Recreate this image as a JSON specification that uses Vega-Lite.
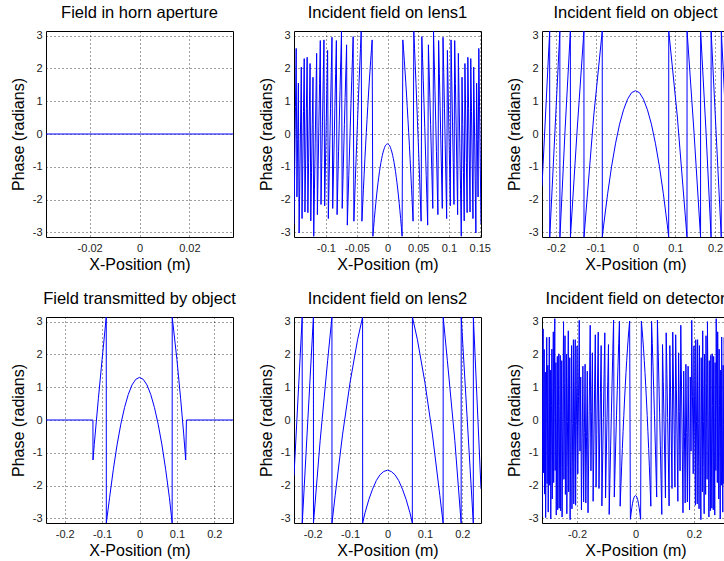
{
"$schema":"https://vega.github.io/schema/vega-lite/v6.json",
"padding":{"left":9,"top":4,"right":0,"bottom":0},
"background":"white",
"datasets":{
"p1":[{"x":-0.0375,"y":0},{"x":0.0375,"y":0}],
"p2":[
{"x":-0.152,"y":-2.74},{"x":-0.15081,"y":-0.94},{"x":-0.14963,"y":0.84},{"x":-0.14844,"y":2.61},{"x":-0.14725,"y":-1.92},{"x":-0.14606,"y":-0.17},{"x":-0.14488,"y":1.55},{"x":-0.14369,"y":-3.02},{"x":-0.1425,"y":-1.32},{"x":-0.14131,"y":0.37},{"x":-0.14013,"y":2.04},{"x":-0.13894,"y":-2.58},{"x":-0.13775,"y":-0.94},{"x":-0.13656,"y":0.69},{"x":-0.13538,"y":2.30},{"x":-0.13419,"y":-2.38},{"x":-0.133,"y":-0.79},{"x":-0.13181,"y":0.78},{"x":-0.13063,"y":2.34},{"x":-0.12944,"y":-2.40},{"x":-0.12825,"y":-0.87},{"x":-0.12706,"y":0.64},{"x":-0.12588,"y":2.15},{"x":-0.12469,"y":-2.65},{"x":-0.1235,"y":-1.17},{"x":-0.12231,"y":0.29},{"x":-0.12113,"y":1.73},{"x":-0.11994,"y":-3.12},{"x":-0.11875,"y":-1.70},{"x":-0.11756,"y":-0.30},{"x":-0.11638,"y":1.09},{"x":-0.11519,"y":2.46},{"x":-0.114,"y":-2.46},{"x":-0.11281,"y":-1.11},{"x":-0.11163,"y":0.22},{"x":-0.11044,"y":1.54},{"x":-0.10925,"y":2.85},{"x":-0.10806,"y":-2.15},{"x":-0.10688,"y":-0.87},{"x":-0.10569,"y":0.39},{"x":-0.1045,"y":1.64},{"x":-0.10331,"y":2.87},{"x":-0.10213,"y":-2.19},{"x":-0.10094,"y":-0.98},{"x":-0.09975,"y":0.21},{"x":-0.09856,"y":1.39},{"x":-0.09738,"y":2.55},{"x":-0.09619,"y":-2.58},{"x":-0.095,"y":-1.45},{"x":-0.09381,"y":-0.33},{"x":-0.09263,"y":0.78},{"x":-0.09144,"y":1.87},{"x":-0.09025,"y":2.95},{"x":-0.08906,"y":-2.27},{"x":-0.08788,"y":-1.22},{"x":-0.08669,"y":-0.18},{"x":-0.0855,"y":0.84},{"x":-0.08431,"y":1.85},{"x":-0.08313,"y":2.85},{"x":-0.08194,"y":-2.46},{"x":-0.08075,"y":-1.49},{"x":-0.07956,"y":-0.54},{"x":-0.07838,"y":0.40},{"x":-0.07719,"y":1.32},{"x":-0.076,"y":2.23},{"x":-0.07481,"y":3.13},{"x":-0.07363,"y":-2.27},{"x":-0.07244,"y":-1.41},{"x":-0.07125,"y":-0.55},{"x":-0.07006,"y":0.29},{"x":-0.06888,"y":1.11},{"x":-0.06769,"y":1.92},{"x":-0.0665,"y":2.72},{"x":-0.06531,"y":-2.78},{"x":-0.06413,"y":-2.01},{"x":-0.06294,"y":-1.26},{"x":-0.06175,"y":-0.52},{"x":-0.06056,"y":0.21},{"x":-0.05938,"y":0.92},{"x":-0.05819,"y":1.62},{"x":-0.057,"y":2.30},{"x":-0.05581,"y":2.97},{"x":-0.05463,"y":-2.66},{"x":-0.05344,"y":-2.01},{"x":-0.05225,"y":-1.39},{"x":-0.05106,"y":-0.77},{"x":-0.04988,"y":-0.17},{"x":-0.04869,"y":0.41},{"x":-0.0475,"y":0.98},{"x":-0.04631,"y":1.54},{"x":-0.04513,"y":2.08},{"x":-0.04394,"y":2.61},{"x":-0.04275,"y":3.13},{"x":-0.04156,"y":-2.66},{"x":-0.04038,"y":-2.17},{"x":-0.03919,"y":-1.70},{"x":-0.038,"y":-1.24},{"x":-0.03681,"y":-0.79},{"x":-0.03563,"y":-0.36},{"x":-0.03444,"y":0.05},{"x":-0.03325,"y":0.45},{"x":-0.03206,"y":0.84},{"x":-0.03088,"y":1.22},{"x":-0.02969,"y":1.58},{"x":-0.0285,"y":1.92},{"x":-0.02731,"y":2.25},{"x":-0.02613,"y":2.57},{"x":-0.02494,"y":2.87},{"x":-0.02375,"y":-3.12},{"x":-0.02256,"y":-2.85},{"x":-0.02138,"y":-2.58},{"x":-0.02019,"y":-2.34},{"x":-0.019,"y":-2.11},{"x":-0.01781,"y":-1.89},{"x":-0.01663,"y":-1.68},{"x":-0.01544,"y":-1.49},{"x":-0.01425,"y":-1.32},{"x":-0.01306,"y":-1.15},{"x":-0.01188,"y":-1.01},{"x":-0.01069,"y":-0.87},{"x":-0.0095,"y":-0.75},{"x":-0.00831,"y":-0.65},{"x":-0.00713,"y":-0.55},{"x":-0.00594,"y":-0.48},{"x":-0.00475,"y":-0.41},{"x":-0.00356,"y":-0.36},{"x":-0.00238,"y":-0.33},{"x":-0.00119,"y":-0.31},
{"x":0,"y":-0.30},
{"x":0.00119,"y":-0.31},{"x":0.00238,"y":-0.33},{"x":0.00356,"y":-0.36},{"x":0.00475,"y":-0.41},{"x":0.00594,"y":-0.48},{"x":0.00713,"y":-0.55},{"x":0.00831,"y":-0.65},{"x":0.0095,"y":-0.75},{"x":0.01069,"y":-0.87},{"x":0.01188,"y":-1.01},{"x":0.01306,"y":-1.15},{"x":0.01425,"y":-1.32},{"x":0.01544,"y":-1.49},{"x":0.01663,"y":-1.68},{"x":0.01781,"y":-1.89},{"x":0.019,"y":-2.11},{"x":0.02019,"y":-2.34},{"x":0.02138,"y":-2.58},{"x":0.02256,"y":-2.85},{"x":0.02375,"y":-3.12},{"x":0.02494,"y":2.87},{"x":0.02613,"y":2.57},{"x":0.02731,"y":2.25},{"x":0.0285,"y":1.92},{"x":0.02969,"y":1.58},{"x":0.03088,"y":1.22},{"x":0.03206,"y":0.84},{"x":0.03325,"y":0.45},{"x":0.03444,"y":0.05},{"x":0.03563,"y":-0.36},{"x":0.03681,"y":-0.79},{"x":0.038,"y":-1.24},{"x":0.03919,"y":-1.70},{"x":0.04038,"y":-2.17},{"x":0.04156,"y":-2.66},{"x":0.04275,"y":3.13},{"x":0.04394,"y":2.61},{"x":0.04513,"y":2.08},{"x":0.04631,"y":1.54},{"x":0.0475,"y":0.98},{"x":0.04869,"y":0.41},{"x":0.04988,"y":-0.17},{"x":0.05106,"y":-0.77},{"x":0.05225,"y":-1.39},{"x":0.05344,"y":-2.01},{"x":0.05463,"y":-2.66},{"x":0.05581,"y":2.97},{"x":0.057,"y":2.30},{"x":0.05819,"y":1.62},{"x":0.05938,"y":0.92},{"x":0.06056,"y":0.21},{"x":0.06175,"y":-0.52},{"x":0.06294,"y":-1.26},{"x":0.06413,"y":-2.01},{"x":0.06531,"y":-2.78},{"x":0.0665,"y":2.72},{"x":0.06769,"y":1.92},{"x":0.06888,"y":1.11},{"x":0.07006,"y":0.29},{"x":0.07125,"y":-0.55},{"x":0.07244,"y":-1.41},{"x":0.07363,"y":-2.27},{"x":0.07481,"y":3.13},{"x":0.076,"y":2.23},{"x":0.07719,"y":1.32},{"x":0.07838,"y":0.40},{"x":0.07956,"y":-0.54},{"x":0.08075,"y":-1.49},{"x":0.08194,"y":-2.46},{"x":0.08313,"y":2.85},{"x":0.08431,"y":1.85},{"x":0.0855,"y":0.84},{"x":0.08669,"y":-0.18},{"x":0.08788,"y":-1.22},{"x":0.08906,"y":-2.27},{"x":0.09025,"y":2.95},{"x":0.09144,"y":1.87},{"x":0.09263,"y":0.78},{"x":0.09381,"y":-0.33},{"x":0.095,"y":-1.45},{"x":0.09619,"y":-2.58},{"x":0.09738,"y":2.55},{"x":0.09856,"y":1.39},{"x":0.09975,"y":0.21},{"x":0.10094,"y":-0.98},{"x":0.10213,"y":-2.19},{"x":0.10331,"y":2.87},{"x":0.1045,"y":1.64},{"x":0.10569,"y":0.39},{"x":0.10688,"y":-0.87},{"x":0.10806,"y":-2.15},{"x":0.10925,"y":2.85},{"x":0.11044,"y":1.54},{"x":0.11163,"y":0.22},{"x":0.11281,"y":-1.11},{"x":0.114,"y":-2.46},{"x":0.11519,"y":2.46},{"x":0.11638,"y":1.09},{"x":0.11756,"y":-0.30},{"x":0.11875,"y":-1.70},{"x":0.11994,"y":-3.12},{"x":0.12113,"y":1.73},{"x":0.12231,"y":0.29},{"x":0.1235,"y":-1.17},{"x":0.12469,"y":-2.65},{"x":0.12588,"y":2.15},{"x":0.12706,"y":0.64},{"x":0.12825,"y":-0.87},{"x":0.12944,"y":-2.40},{"x":0.13063,"y":2.34},{"x":0.13181,"y":0.78},{"x":0.133,"y":-0.79},{"x":0.13419,"y":-2.38},{"x":0.13538,"y":2.30},{"x":0.13656,"y":0.69},{"x":0.13775,"y":-0.94},{"x":0.13894,"y":-2.58},{"x":0.14013,"y":2.04},{"x":0.14131,"y":0.37},{"x":0.1425,"y":-1.32},{"x":0.14369,"y":-3.02},{"x":0.14488,"y":1.55},{"x":0.14606,"y":-0.17},{"x":0.14725,"y":-1.92},{"x":0.14844,"y":2.61},{"x":0.14963,"y":0.84},{"x":0.15081,"y":-0.94},{"x":0.152,"y":-2.74}
],
"p3":[
{"x":-0.235,"y":-1.6},{"x":-0.2157,"y":3.14},{"x":-0.2155,"y":-3.14},{"x":-0.1901,"y":3.14},{"x":-0.1899,"y":-3.14},{"x":-0.177,"y":0.12},{"x":-0.1637,"y":3.14},{"x":-0.1635,"y":-3.14},{"x":-0.147,"y":0.06},{"x":-0.1296,"y":3.14},{"x":-0.1294,"y":-3.14},{"x":-0.105,"y":0.55},{"x":-0.0836,"y":3.14},{"x":-0.0834,"y":-3.14},{"x":-0.08,"y":-2.78},{"x":-0.07,"y":-1.82},{"x":-0.06,"y":-0.98},{"x":-0.05,"y":-0.28},{"x":-0.04,"y":0.30},{"x":-0.03,"y":0.74},{"x":-0.02,"y":1.06},{"x":-0.01,"y":1.26},{"x":0,"y":1.32},{"x":0.01,"y":1.26},{"x":0.02,"y":1.06},{"x":0.03,"y":0.74},{"x":0.04,"y":0.30},{"x":0.05,"y":-0.28},{"x":0.06,"y":-0.98},{"x":0.07,"y":-1.82},{"x":0.08,"y":-2.78},{"x":0.0834,"y":-3.14},{"x":0.0836,"y":3.14},{"x":0.105,"y":0.55},{"x":0.1294,"y":-3.14},{"x":0.1296,"y":3.14},{"x":0.147,"y":0.06},{"x":0.1635,"y":-3.14},{"x":0.1637,"y":3.14},{"x":0.177,"y":0.12},{"x":0.1899,"y":-3.14},{"x":0.1901,"y":3.14},{"x":0.2155,"y":-3.14},{"x":0.2157,"y":3.14},{"x":0.235,"y":-1.6}
],
"p4":[
{"x":-0.25,"y":0},{"x":-0.1245,"y":0},{"x":-0.1243,"y":-1.22},{"x":-0.121,"y":-0.75},{"x":-0.11,"y":0.65},{"x":-0.1,"y":1.85},{"x":-0.0889,"y":3.14},{"x":-0.0887,"y":-3.14},{"x":-0.08,"y":-2.37},{"x":-0.07,"y":-1.51},{"x":-0.06,"y":-0.76},{"x":-0.05,"y":-0.13},{"x":-0.04,"y":0.38},{"x":-0.03,"y":0.78},{"x":-0.02,"y":1.07},{"x":-0.01,"y":1.24},{"x":0,"y":1.30},{"x":0.01,"y":1.24},{"x":0.02,"y":1.07},{"x":0.03,"y":0.78},{"x":0.04,"y":0.38},{"x":0.05,"y":-0.13},{"x":0.06,"y":-0.76},{"x":0.07,"y":-1.51},{"x":0.08,"y":-2.37},{"x":0.0873,"y":-3.14},{"x":0.0875,"y":3.14},{"x":0.1,"y":1.85},{"x":0.11,"y":0.65},{"x":0.118,"y":-0.4},{"x":0.1235,"y":-1.22},{"x":0.1255,"y":0},{"x":0.25,"y":0}
],
"p5":[
{"x":-0.25,"y":-1.7},{"x":-0.2281,"y":3.14},{"x":-0.2279,"y":-3.14},{"x":-0.1981,"y":3.14},{"x":-0.1979,"y":-3.14},{"x":-0.18,"y":-0.62},{"x":-0.16,"y":1.82},{"x":-0.1486,"y":3.14},{"x":-0.1484,"y":-3.14},{"x":-0.14,"y":-2.31},{"x":-0.12,"y":-0.43},{"x":-0.1,"y":1.15},{"x":-0.08,"y":2.45},{"x":-0.0666,"y":3.14},{"x":-0.0664,"y":-3.14},{"x":-0.06,"y":-2.83},{"x":-0.05,"y":-2.43},{"x":-0.04,"y":-2.11},{"x":-0.03,"y":-1.85},{"x":-0.02,"y":-1.67},{"x":-0.01,"y":-1.57},{"x":0,"y":-1.53},{"x":0.01,"y":-1.57},{"x":0.02,"y":-1.67},{"x":0.03,"y":-1.85},{"x":0.04,"y":-2.11},{"x":0.05,"y":-2.43},{"x":0.06,"y":-2.83},{"x":0.0664,"y":-3.14},{"x":0.0666,"y":3.14},{"x":0.08,"y":2.45},{"x":0.1,"y":1.15},{"x":0.12,"y":-0.43},{"x":0.14,"y":-2.31},{"x":0.1487,"y":-3.14},{"x":0.1489,"y":3.14},{"x":0.16,"y":1.82},{"x":0.18,"y":-0.62},{"x":0.1969,"y":-3.14},{"x":0.1971,"y":3.14},{"x":0.2294,"y":-3.14},{"x":0.2296,"y":3.14},{"x":0.25,"y":-2.1}
],
"p6":[
{"x":-0.32,"y":-2.95},{"x":-0.31875,"y":-1.03},{"x":-0.3175,"y":0.88},{"x":-0.31625,"y":2.78},{"x":-0.315,"y":-1.61},{"x":-0.31375,"y":0.27},{"x":-0.3125,"y":2.15},{"x":-0.31125,"y":-2.26},{"x":-0.31,"y":-0.40},{"x":-0.30875,"y":1.46},{"x":-0.3075,"y":-2.98},{"x":-0.30625,"y":-1.14},{"x":-0.305,"y":0.70},{"x":-0.30375,"y":2.52},{"x":-0.3025,"y":-1.94},{"x":-0.30125,"y":-0.13},{"x":-0.3,"y":1.67},{"x":-0.29875,"y":-2.81},{"x":-0.2975,"y":-1.03},{"x":-0.29625,"y":0.75},{"x":-0.295,"y":2.53},{"x":-0.29375,"y":-1.99},{"x":-0.2925,"y":-0.23},{"x":-0.29125,"y":1.52},{"x":-0.29,"y":-3.02},{"x":-0.28875,"y":-1.29},{"x":-0.2875,"y":0.44},{"x":-0.28625,"y":2.16},{"x":-0.285,"y":-2.41},{"x":-0.28375,"y":-0.70},{"x":-0.2825,"y":1.00},{"x":-0.28125,"y":2.69},{"x":-0.28,"y":-1.91},{"x":-0.27875,"y":-0.24},{"x":-0.2775,"y":1.43},{"x":-0.27625,"y":3.09},{"x":-0.275,"y":-1.54},{"x":-0.27375,"y":0.11},{"x":-0.2725,"y":1.75},{"x":-0.27125,"y":-2.90},{"x":-0.27,"y":-1.28},{"x":-0.26875,"y":0.33},{"x":-0.2675,"y":1.94},{"x":-0.26625,"y":-2.74},{"x":-0.265,"y":-1.15},{"x":-0.26375,"y":0.44},{"x":-0.2625,"y":2.02},{"x":-0.26125,"y":-2.69},{"x":-0.26,"y":-1.13},{"x":-0.25875,"y":0.42},{"x":-0.2575,"y":1.97},{"x":-0.25625,"y":-2.77},{"x":-0.255,"y":-1.24},{"x":-0.25375,"y":0.29},{"x":-0.2525,"y":1.81},{"x":-0.25125,"y":-2.96},{"x":-0.25,"y":-1.46},{"x":-0.24875,"y":0.03},{"x":-0.2475,"y":1.52},{"x":-0.24625,"y":3.00},{"x":-0.245,"y":-1.81},{"x":-0.24375,"y":-0.34},{"x":-0.2425,"y":1.12},{"x":-0.24125,"y":2.57},{"x":-0.24,"y":-2.27},{"x":-0.23875,"y":-0.84},{"x":-0.2375,"y":0.59},{"x":-0.23625,"y":2.01},{"x":-0.235,"y":-2.86},{"x":-0.23375,"y":-1.45},{"x":-0.2325,"y":-0.05},{"x":-0.23125,"y":1.34},{"x":-0.23,"y":2.72},{"x":-0.22875,"y":-2.19},{"x":-0.2275,"y":-0.82},{"x":-0.22625,"y":0.54},{"x":-0.225,"y":1.90},{"x":-0.22375,"y":-3.04},{"x":-0.2225,"y":-1.70},{"x":-0.22125,"y":-0.37},{"x":-0.22,"y":0.95},{"x":-0.21875,"y":2.27},{"x":-0.2175,"y":-2.71},{"x":-0.21625,"y":-1.41},{"x":-0.215,"y":-0.11},{"x":-0.21375,"y":1.17},{"x":-0.2125,"y":2.45},{"x":-0.21125,"y":-2.56},{"x":-0.21,"y":-1.30},{"x":-0.20875,"y":-0.04},{"x":-0.2075,"y":1.21},{"x":-0.20625,"y":2.45},{"x":-0.205,"y":-2.60},{"x":-0.20375,"y":-1.38},{"x":-0.2025,"y":-0.16},{"x":-0.20125,"y":1.05},{"x":-0.2,"y":2.26},{"x":-0.1975,"y":-1.64},{"x":-0.195,"y":0.71},{"x":-0.1925,"y":3.04},{"x":-0.19,"y":-0.95},{"x":-0.1875,"y":1.31},{"x":-0.185,"y":-2.74},{"x":-0.1825,"y":-0.53},{"x":-0.18,"y":1.64},{"x":-0.1775,"y":-2.50},{"x":-0.175,"y":-0.38},{"x":-0.1725,"y":1.70},{"x":-0.17,"y":-2.53},{"x":-0.1675,"y":-0.50},{"x":-0.165,"y":1.49},{"x":-0.1625,"y":-2.83},{"x":-0.16,"y":-0.89},{"x":-0.1575,"y":1.01},{"x":-0.155,"y":2.89},{"x":-0.1525,"y":-1.55},{"x":-0.15,"y":0.26},{"x":-0.1475,"y":2.05},{"x":-0.145,"y":-2.48},{"x":-0.1425,"y":-0.76},{"x":-0.14,"y":0.94},{"x":-0.1375,"y":2.60},{"x":-0.135,"y":-2.05},{"x":-0.1325,"y":-0.44},{"x":-0.13,"y":1.13},{"x":-0.1275,"y":2.68},{"x":-0.125,"y":-2.09},{"x":-0.1225,"y":-0.61},{"x":-0.12,"y":0.85},{"x":-0.1175,"y":2.27},{"x":-0.115,"y":-2.62},{"x":-0.1125,"y":-1.25},{"x":-0.11,"y":0.08},{"x":-0.1075,"y":1.39},{"x":-0.105,"y":2.66},{"x":-0.1025,"y":-2.38},{"x":-0.1,"y":-1.16},{"x":-0.0975,"y":0.02},{"x":-0.095,"y":1.18},{"x":-0.0925,"y":2.30},{"x":-0.09,"y":-2.88},{"x":-0.0875,"y":-1.82},{"x":-0.085,"y":-0.79},{"x":-0.0825,"y":0.22},{"x":-0.08,"y":1.19},{"x":-0.0775,"y":2.14},{"x":-0.075,"y":3.05},{"x":-0.0725,"y":-2.35},{"x":-0.07,"y":-1.49},{"x":-0.0675,"y":-0.67},{"x":-0.065,"y":0.13},{"x":-0.0625,"y":0.89},{"x":-0.06,"y":1.63},{"x":-0.0575,"y":2.33},{"x":-0.055,"y":3.01},{"x":-0.0525,"y":-2.63},{"x":-0.05,"y":-2.01},{"x":-0.0475,"y":-1.43},{"x":-0.045,"y":-0.87},{"x":-0.0425,"y":-0.35},{"x":-0.04,"y":0.14},{"x":-0.0375,"y":0.61},{"x":-0.035,"y":1.04},{"x":-0.0325,"y":1.45},{"x":-0.03,"y":1.82},{"x":-0.0275,"y":2.17},{"x":-0.025,"y":2.48},{"x":-0.0225,"y":2.77},{"x":-0.02,"y":3.02},{"x":-0.0175,"y":-3.03},{"x":-0.015,"y":-2.84},{"x":-0.0125,"y":-2.67},{"x":-0.01,"y":-2.54},{"x":-0.0075,"y":-2.43},{"x":-0.005,"y":-2.36},{"x":-0.0025,"y":-2.32},
{"x":0,"y":-2.30},
{"x":0.0025,"y":-2.32},{"x":0.005,"y":-2.36},{"x":0.0075,"y":-2.43},{"x":0.01,"y":-2.54},{"x":0.0125,"y":-2.67},{"x":0.015,"y":-2.84},{"x":0.0175,"y":-3.03},{"x":0.02,"y":3.02},{"x":0.0225,"y":2.77},{"x":0.025,"y":2.48},{"x":0.0275,"y":2.17},{"x":0.03,"y":1.82},{"x":0.0325,"y":1.45},{"x":0.035,"y":1.04},{"x":0.0375,"y":0.61},{"x":0.04,"y":0.14},{"x":0.0425,"y":-0.35},{"x":0.045,"y":-0.87},{"x":0.0475,"y":-1.43},{"x":0.05,"y":-2.01},{"x":0.0525,"y":-2.63},{"x":0.055,"y":3.01},{"x":0.0575,"y":2.33},{"x":0.06,"y":1.63},{"x":0.0625,"y":0.89},{"x":0.065,"y":0.13},{"x":0.0675,"y":-0.67},{"x":0.07,"y":-1.49},{"x":0.0725,"y":-2.35},{"x":0.075,"y":3.05},{"x":0.0775,"y":2.14},{"x":0.08,"y":1.19},{"x":0.0825,"y":0.22},{"x":0.085,"y":-0.79},{"x":0.0875,"y":-1.82},{"x":0.09,"y":-2.88},{"x":0.0925,"y":2.30},{"x":0.095,"y":1.18},{"x":0.0975,"y":0.02},{"x":0.1,"y":-1.16},{"x":0.1025,"y":-2.38},{"x":0.105,"y":2.66},{"x":0.1075,"y":1.39},{"x":0.11,"y":0.08},{"x":0.1125,"y":-1.25},{"x":0.115,"y":-2.62},{"x":0.1175,"y":2.27},{"x":0.12,"y":0.85},{"x":0.1225,"y":-0.61},{"x":0.125,"y":-2.09},{"x":0.1275,"y":2.68},{"x":0.13,"y":1.13},{"x":0.1325,"y":-0.44},{"x":0.135,"y":-2.05},{"x":0.1375,"y":2.60},{"x":0.14,"y":0.94},{"x":0.1425,"y":-0.76},{"x":0.145,"y":-2.48},{"x":0.1475,"y":2.05},{"x":0.15,"y":0.26},{"x":0.1525,"y":-1.55},{"x":0.155,"y":2.89},{"x":0.1575,"y":1.01},{"x":0.16,"y":-0.89},{"x":0.1625,"y":-2.83},{"x":0.165,"y":1.49},{"x":0.1675,"y":-0.50},{"x":0.17,"y":-2.53},{"x":0.1725,"y":1.70},{"x":0.175,"y":-0.38},{"x":0.1775,"y":-2.50},{"x":0.18,"y":1.64},{"x":0.1825,"y":-0.53},{"x":0.185,"y":-2.74},{"x":0.1875,"y":1.31},{"x":0.19,"y":-0.95},{"x":0.1925,"y":3.04},{"x":0.195,"y":0.71},{"x":0.1975,"y":-1.64},{"x":0.2,"y":2.26},{"x":0.20125,"y":1.05},{"x":0.2025,"y":-0.16},{"x":0.20375,"y":-1.38},{"x":0.205,"y":-2.60},{"x":0.20625,"y":2.45},{"x":0.2075,"y":1.21},{"x":0.20875,"y":-0.04},{"x":0.21,"y":-1.30},{"x":0.21125,"y":-2.56},{"x":0.2125,"y":2.45},{"x":0.21375,"y":1.17},{"x":0.215,"y":-0.11},{"x":0.21625,"y":-1.41},{"x":0.2175,"y":-2.71},{"x":0.21875,"y":2.27},{"x":0.22,"y":0.95},{"x":0.22125,"y":-0.37},{"x":0.2225,"y":-1.70},{"x":0.22375,"y":-3.04},{"x":0.225,"y":1.90},{"x":0.22625,"y":0.54},{"x":0.2275,"y":-0.82},{"x":0.22875,"y":-2.19},{"x":0.23,"y":2.72},{"x":0.23125,"y":1.34},{"x":0.2325,"y":-0.05},{"x":0.23375,"y":-1.45},{"x":0.235,"y":-2.86},{"x":0.23625,"y":2.01},{"x":0.2375,"y":0.59},{"x":0.23875,"y":-0.84},{"x":0.24,"y":-2.27},{"x":0.24125,"y":2.57},{"x":0.2425,"y":1.12},{"x":0.24375,"y":-0.34},{"x":0.245,"y":-1.81},{"x":0.24625,"y":3.00},{"x":0.2475,"y":1.52},{"x":0.24875,"y":0.03},{"x":0.25,"y":-1.46},{"x":0.25125,"y":-2.96},{"x":0.2525,"y":1.81},{"x":0.25375,"y":0.29},{"x":0.255,"y":-1.24},{"x":0.25625,"y":-2.77},{"x":0.2575,"y":1.97},{"x":0.25875,"y":0.42},{"x":0.26,"y":-1.13},{"x":0.26125,"y":-2.69},{"x":0.2625,"y":2.02},{"x":0.26375,"y":0.44},{"x":0.265,"y":-1.15},{"x":0.26625,"y":-2.74},{"x":0.2675,"y":1.94},{"x":0.26875,"y":0.33},{"x":0.27,"y":-1.28},{"x":0.27125,"y":-2.90},{"x":0.2725,"y":1.75},{"x":0.27375,"y":0.11},{"x":0.275,"y":-1.54},{"x":0.27625,"y":3.09},{"x":0.2775,"y":1.43},{"x":0.27875,"y":-0.24},{"x":0.28,"y":-1.91},{"x":0.28125,"y":2.69},{"x":0.2825,"y":1.00},{"x":0.28375,"y":-0.70},{"x":0.285,"y":-2.41},{"x":0.28625,"y":2.16},{"x":0.2875,"y":0.44},{"x":0.28875,"y":-1.29},{"x":0.29,"y":-3.02},{"x":0.29125,"y":1.52},{"x":0.2925,"y":-0.23},{"x":0.29375,"y":-1.99},{"x":0.295,"y":2.53},{"x":0.29625,"y":0.75},{"x":0.2975,"y":-1.03},{"x":0.29875,"y":-2.81},{"x":0.3,"y":1.67},{"x":0.30125,"y":-0.13},{"x":0.3025,"y":-1.94},{"x":0.30375,"y":2.52},{"x":0.305,"y":0.70},{"x":0.30625,"y":-1.14},{"x":0.3075,"y":-2.98},{"x":0.30875,"y":1.46},{"x":0.31,"y":-0.40},{"x":0.31125,"y":-2.26},{"x":0.3125,"y":2.15},{"x":0.31375,"y":0.27},{"x":0.315,"y":-1.61},{"x":0.31625,"y":2.78},{"x":0.3175,"y":0.88},{"x":0.31875,"y":-1.03},{"x":0.32,"y":-2.95}
]
},
"columns":3,
"spacing":{"row":80,"column":61},
"bounds":"flush",
"concat":[
{"title":"Field in horn aperture","width":187,"height":206,"data":{"name":"p1"},"mark":{"type":"line","clip":true},
"encoding":{"x":{"field":"x","type":"quantitative","scale":{"domain":[-0.0375,0.0375],"nice":false,"zero":false},"axis":{"values":[-0.02,0,0.02],"title":"X-Position (m)","labelExpr":"''+datum.value"}},
"y":{"field":"y","type":"quantitative","scale":{"domain":[-3.1416,3.1416],"nice":false,"zero":false},"axis":{"values":[-3,-2,-1,0,1,2,3],"title":"Phase (radians)","labelExpr":"''+datum.value"}}}},
{"title":"Incident field on lens1","width":187,"height":206,"data":{"name":"p2"},"mark":{"type":"line","clip":true},
"encoding":{"x":{"field":"x","type":"quantitative","scale":{"domain":[-0.152,0.152],"nice":false,"zero":false},"axis":{"values":[-0.1,-0.05,0,0.05,0.1,0.15],"title":"X-Position (m)","labelExpr":"''+datum.value"}},
"y":{"field":"y","type":"quantitative","scale":{"domain":[-3.1416,3.1416],"nice":false,"zero":false},"axis":{"values":[-3,-2,-1,0,1,2,3],"title":"Phase (radians)","labelExpr":"''+datum.value"}}}},
{"title":"Incident field on object","width":187,"height":206,"data":{"name":"p3"},"mark":{"type":"line","clip":true},
"encoding":{"x":{"field":"x","type":"quantitative","scale":{"domain":[-0.235,0.235],"nice":false,"zero":false},"axis":{"values":[-0.2,-0.1,0,0.1,0.2],"title":"X-Position (m)","labelExpr":"''+datum.value"}},
"y":{"field":"y","type":"quantitative","scale":{"domain":[-3.1416,3.1416],"nice":false,"zero":false},"axis":{"values":[-3,-2,-1,0,1,2,3],"title":"Phase (radians)","labelExpr":"''+datum.value"}}}},
{"title":"Field transmitted by object","width":187,"height":206,"data":{"name":"p4"},"mark":{"type":"line","clip":true},
"encoding":{"x":{"field":"x","type":"quantitative","scale":{"domain":[-0.25,0.25],"nice":false,"zero":false},"axis":{"values":[-0.2,-0.1,0,0.1,0.2],"title":"X-Position (m)","labelExpr":"''+datum.value"}},
"y":{"field":"y","type":"quantitative","scale":{"domain":[-3.1416,3.1416],"nice":false,"zero":false},"axis":{"values":[-3,-2,-1,0,1,2,3],"title":"Phase (radians)","labelExpr":"''+datum.value"}}}},
{"title":"Incident field on lens2","width":187,"height":206,"data":{"name":"p5"},"mark":{"type":"line","clip":true},
"encoding":{"x":{"field":"x","type":"quantitative","scale":{"domain":[-0.25,0.25],"nice":false,"zero":false},"axis":{"values":[-0.2,-0.1,0,0.1,0.2],"title":"X-Position (m)","labelExpr":"''+datum.value"}},
"y":{"field":"y","type":"quantitative","scale":{"domain":[-3.1416,3.1416],"nice":false,"zero":false},"axis":{"values":[-3,-2,-1,0,1,2,3],"title":"Phase (radians)","labelExpr":"''+datum.value"}}}},
{"title":"Incident field on detector","width":187,"height":206,"data":{"name":"p6"},"mark":{"type":"line","clip":true},
"encoding":{"x":{"field":"x","type":"quantitative","scale":{"domain":[-0.32,0.32],"nice":false,"zero":false},"axis":{"values":[-0.2,0,0.2],"title":"X-Position (m)","labelExpr":"''+datum.value"}},
"y":{"field":"y","type":"quantitative","scale":{"domain":[-3.1416,3.1416],"nice":false,"zero":false},"axis":{"values":[-3,-2,-1,0,1,2,3],"title":"Phase (radians)","labelExpr":"''+datum.value"}}}}
],
"config":{
"font":"Liberation Sans",
"view":{"stroke":"#000","strokeWidth":1},
"axis":{"grid":true,"gridColor":"#000","gridDash":[1,3],"gridOpacity":0.75,"gridWidth":1,"domain":false,"ticks":false,"labelFont":"Liberation Sans","labelFontSize":11,"labelColor":"#222","titleFont":"Liberation Sans","titleFontSize":16,"titleFontWeight":"normal","titleColor":"#000"},
"axisX":{"labelPadding":5,"titlePadding":3},
"axisY":{"labelPadding":4,"titlePadding":6},
"title":{"font":"Liberation Sans","fontSize":16.5,"fontWeight":"normal","color":"#000","offset":8},
"line":{"color":"#0000ff","strokeWidth":1}
}
}
